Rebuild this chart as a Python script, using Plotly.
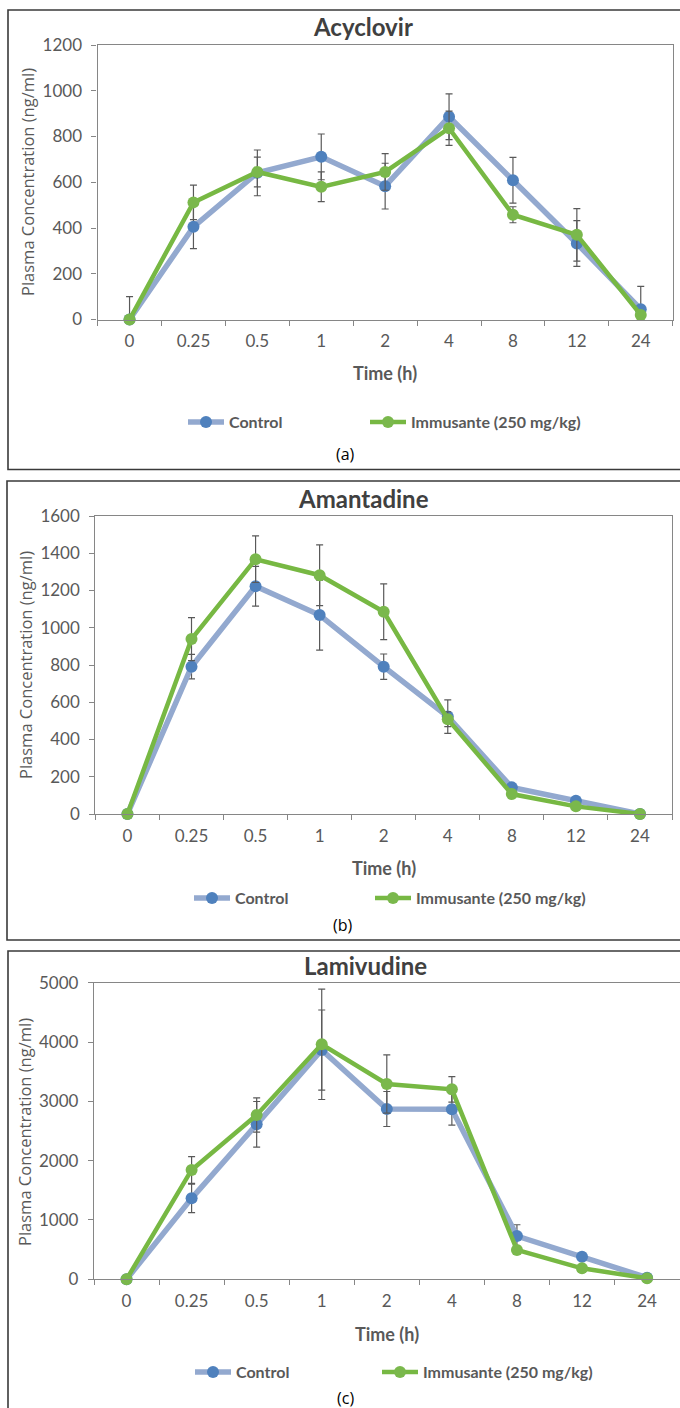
import plotly.graph_objects as go

W, H = 680, 1408

# ---------------- data ----------------
time_labels = ["0", "0.25", "0.5", "1", "2", "4", "8", "12", "24"]

acy_control = [0, 405, 641, 711, 583, 886, 609, 332, 45]
acy_control_err = [100, 95, 100, 100, 100, 100, 100, 100, 100]
acy_immu = [0, 512, 645, 580, 645, 836, 458, 370, 20]
acy_immu_err = [0, 75, 65, 65, 80, 75, 35, 115, 10]

ama_control = [0, 791, 1223, 1068, 791, 523, 143, 71, 0]
ama_control_err = [0, 66, 107, 188, 68, 90, 15, 15, 0]
ama_immu = [0, 939, 1368, 1282, 1086, 509, 107, 41, 0]
ama_immu_err = [0, 115, 125, 163, 150, 40, 10, 10, 0]

lam_control = [0, 1365, 2612, 3865, 2871, 2865, 730, 382, 28]
lam_control_err = [0, 240, 385, 675, 295, 265, 190, 60, 0]
lam_immu = [0, 1843, 2770, 3961, 3292, 3202, 494, 185, 17]
lam_immu_err = [0, 225, 290, 930, 490, 215, 60, 30, 0]

panel_titles = ["Acyclovir", "Amantadine", "Lamivudine"]
panel_tags = ["(a)", "(b)", "(c)"]
series_names = ["Control", "Immusante (250 mg/kg)"]
y_ranges = [[0, 1200], [0, 1600], [0, 5000]]
y_dticks = [200, 200, 1000]
x_title = "Time (h)"
y_title = "Plasma Concentration (ng/ml)"

# ---------------- style ----------------
def fx(px):
    return px / W

def fy(py):
    return 1 - py / H

TXT = "#595959"
AXC = "#868686"
CTRL_LINE = "#93A9CF"
CTRL_MARK = "#4F81BD"
IMMU_LINE = "#77B843"
IMMU_MARK = "#7AB84C"
ERR = "#595959"
FONT = "Lato"

panels = [
    dict(ctrl=acy_control, ctrl_err=acy_control_err, immu=acy_immu, immu_err=acy_immu_err,
         px=(97.6, 672.7), py=(45, 319.5), title_xy=(363, 27), xt_xy=(385, 373),
         yt_xy=(27, 182), tag_xy=(345, 454), leg_y=422, leg_x=(183, 365),
         box=(8, 10, 700, 469.5)),
    dict(ctrl=ama_control, ctrl_err=ama_control_err, immu=ama_immu, immu_err=ama_immu_err,
         px=(95.4, 672), py=(516, 814), title_xy=(363, 498), xt_xy=(384, 868),
         yt_xy=(25, 665), tag_xy=(343, 925), leg_y=898, leg_x=(189, 370),
         box=(7, 481, 700, 940)),
    dict(ctrl=lam_control, ctrl_err=lam_control_err, immu=lam_immu, immu_err=lam_immu_err,
         px=(94, 679.6), py=(982.7, 1279.3), title_xy=(365, 965), xt_xy=(387, 1334),
         yt_xy=(24, 1132), tag_xy=(345, 1398), leg_y=1372, leg_x=(190, 377),
         box=(8, 951, 700, 1430)),
]

fig = go.Figure()
annotations = []
shapes = []
layout_extra = {}

for i, p in enumerate(panels):
    n = "" if i == 0 else str(i + 1)
    xa, ya = "x" + n, "y" + n
    leg_c = "legend" + ("" if i == 0 else str(2 * i + 1))
    leg_i = "legend" + str(2 * i + 2)

    minus_c = [min(e, v) for e, v in zip(p["ctrl_err"], p["ctrl"])]
    minus_i = [min(e, v) for e, v in zip(p["immu_err"], p["immu"])]

    fig.add_trace(go.Scatter(
        x=time_labels, y=p["ctrl"], name=series_names[0], mode="lines+markers",
        line=dict(color=CTRL_LINE, width=5.5), marker=dict(color=CTRL_MARK, size=12),
        error_y=dict(type="data", array=p["ctrl_err"], arrayminus=minus_c, visible=True,
                     color=ERR, thickness=1.2, width=3.5),
        xaxis=xa, yaxis=ya, legend=leg_c, showlegend=True, cliponaxis=False))
    fig.add_trace(go.Scatter(
        x=time_labels, y=p["immu"], name=series_names[1], mode="lines+markers",
        line=dict(color=IMMU_LINE, width=4.5), marker=dict(color=IMMU_MARK, size=12),
        error_y=dict(type="data", array=p["immu_err"], arrayminus=minus_i, visible=True,
                     color=ERR, thickness=1.2, width=3.5),
        xaxis=xa, yaxis=ya, legend=leg_i, showlegend=True, cliponaxis=False))

    layout_extra["xaxis" + n] = dict(
        domain=[fx(p["px"][0]), fx(p["px"][1])], anchor=ya, type="category",
        range=[-0.5, 8.5], showline=True, linecolor=AXC, linewidth=1.3, mirror=True,
        ticks="outside", tickson="boundaries", ticklen=5, tickcolor=AXC, tickwidth=1.3,
        showgrid=False, zeroline=False, fixedrange=True, automargin=False,
        tickfont=dict(family=FONT, size=17, color=TXT), ticklabelstandoff=6)
    layout_extra["yaxis" + n] = dict(
        domain=[fy(p["py"][1]), fy(p["py"][0])], anchor=xa,
        range=y_ranges[i], dtick=y_dticks[i], showline=True, linecolor=AXC, linewidth=1.3,
        mirror=True, ticks="outside", ticklen=5, tickcolor=AXC, tickwidth=1.3,
        showgrid=False, zeroline=False, fixedrange=True, automargin=False,
        tickfont=dict(family=FONT, size=17, color=TXT), ticklabelstandoff=6)
    for leg, lx in ((leg_c, p["leg_x"][0]), (leg_i, p["leg_x"][1])):
        layout_extra[leg] = dict(
            orientation="h", x=fx(lx), y=fy(p["leg_y"]),
            xanchor="left", yanchor="middle", itemwidth=36, visible=True,
            font=dict(family=FONT, size=16, color=TXT, weight="bold"),
            bgcolor="rgba(0,0,0,0)", borderwidth=0)

    annotations += [
        dict(text=panel_titles[i], x=fx(p["title_xy"][0]), y=fy(p["title_xy"][1]),
             xref="paper", yref="paper", showarrow=False, xanchor="center", yanchor="middle",
             font=dict(family=FONT, size=24, color="#404040", weight="bold")),
        dict(text=x_title, x=fx(p["xt_xy"][0]), y=fy(p["xt_xy"][1]),
             xref="paper", yref="paper", showarrow=False, xanchor="center", yanchor="middle",
             font=dict(family=FONT, size=18, color=TXT, weight="bold")),
        dict(text=y_title, x=fx(p["yt_xy"][0]), y=fy(p["yt_xy"][1]), textangle=-90,
             xref="paper", yref="paper", showarrow=False, xanchor="center", yanchor="middle",
             font=dict(family="Open Sans", size=16.5, color=TXT)),
        dict(text=panel_tags[i], x=fx(p["tag_xy"][0]), y=fy(p["tag_xy"][1]),
             xref="paper", yref="paper", showarrow=False, xanchor="center", yanchor="middle",
             font=dict(family="Open Sans", size=16, color="#000000")),
    ]
    bx = p["box"]
    shapes.append(dict(type="rect", xref="paper", yref="paper",
                       x0=fx(bx[0]), x1=fx(bx[2]), y0=fy(bx[3]), y1=fy(bx[1]),
                       line=dict(color="#3A3A3A", width=1.6), fillcolor="rgba(0,0,0,0)",
                       layer="below"))

fig.update_layout(
    width=W, height=H, margin=dict(l=0, r=0, t=0, b=0, pad=0, autoexpand=False),
    paper_bgcolor="white", plot_bgcolor="white", showlegend=True,
    annotations=annotations, shapes=shapes, **layout_extra)

fig.write_html(
    "out.html",
    config={"displayModeBar": False},
    post_script="document.body.style.margin='0';document.body.style.overflow='hidden';")
